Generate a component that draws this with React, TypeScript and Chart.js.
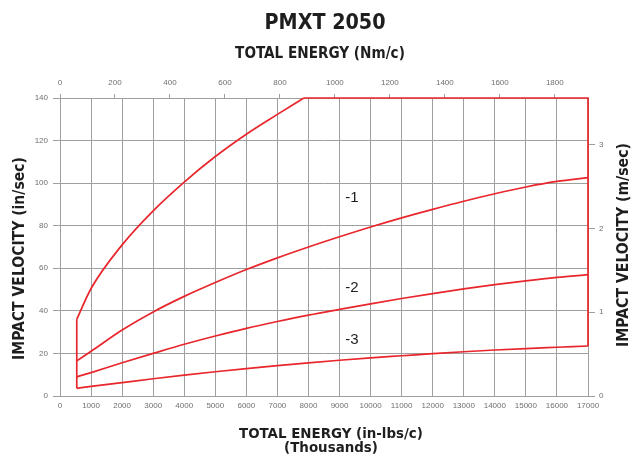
import React, { useEffect, useRef } from 'react';
import { Chart, registerables } from 'chart.js';

Chart.register(...registerables);

// ---- data (energy in thousands of in-lbs per cycle, velocity in in/sec) ----
const chartTitle = 'PMXT 2050';
const topAxisTitle = 'TOTAL ENERGY (Nm/c)';
const bottomAxisTitle = ['TOTAL ENERGY (in-lbs/c)', '(Thousands)'];
const leftAxisTitle = 'IMPACT VELOCITY (in/sec)';
const rightAxisTitle = 'IMPACT VELOCITY (m/sec)';

const energyMin = 0;
const energyMax = 17000;
const energyStep = 1000;
const nmPerThousandInLb = 0.112985;
const nmStep = 200;
const velocityMin = 0;
const velocityMax = 140;
const velocityStep = 20;
const metersPerInch = 0.0254;
const mpsStep = 1;

const curveEnergy = [540, 1000, 2000, 3000, 4000, 5000, 6000, 7000, 8000, 9000, 10000, 11000, 12000, 13000, 14000, 15000, 16000, 17000];
const curve1Velocity = [16.5, 21, 31, 39.5, 46.8, 53.3, 59.4, 64.9, 70, 74.8, 79.4, 83.7, 87.7, 91.5, 95, 98.2, 100.8, 102.6];
const curve2Velocity = [9, 11, 15.6, 20, 24.3, 28.2, 31.8, 35, 38, 40.7, 43.3, 45.8, 48.1, 50.3, 52.3, 54.1, 55.7, 57];
const curve3Velocity = [3.6, 4.5, 6.3, 8.1, 9.8, 11.4, 12.9, 14.3, 15.6, 16.8, 17.9, 18.9, 19.9, 20.8, 21.6, 22.3, 22.9, 23.5];

const limitCurveEnergy = [540, 1000, 2000, 3000, 4000, 5000, 6000, 7000, 7850];
const limitCurveVelocity = [36, 50.5, 71, 87, 100.5, 112.5, 123, 132.3, 140];

const leftEdgeEnergy = [540, 540];
const leftEdgeVelocity = [3.6, 36];
const topRightEdgeEnergy = [7850, 17000, 17000];
const topRightEdgeVelocity = [140, 140, 23.5];

const curveLabels = ['-1', '-2', '-3'];
const curveLabelEnergy = [9400, 9400, 9400];
const curveLabelVelocity = [93, 51, 26.5];

// ---- styling ----
const W = 632;
const H = 457;
const RED = '#e8262c';
const GRID = '#9f9f9f';
const TICK = '#6f6f6f';
const INK = '#1e1e1e';

const toPoints = (xs: number[], ys: number[]) => xs.map((x, i) => ({ x, y: ys[i] }));

function fontAvailable(name: string): boolean {
  const ctx = document.createElement('canvas').getContext('2d');
  if (!ctx) return false;
  const sample = 'PMXT 2050 TOTAL ENERGY mmwwiil';
  ctx.font = 'bold 40px monospace';
  const a = ctx.measureText(sample).width;
  ctx.font = `bold 40px "${name}", monospace`;
  const b = ctx.measureText(sample).width;
  return Math.abs(a - b) > 0.5;
}

function fitSize(text: string, family: string, weight: string, target: number): number {
  const ctx = document.createElement('canvas').getContext('2d');
  if (!ctx) return 14;
  ctx.font = `${weight} 100px ${family}`;
  return (100 * target) / ctx.measureText(text).width;
}

export default function App() {
  const ref = useRef<HTMLCanvasElement>(null);

  useEffect(() => {
    const canvas = ref.current;
    if (!canvas) return;

    let family = '"Liberation Sans", Arial, sans-serif';
    if (fontAvailable('Liberation Sans Narrow')) family = '"Liberation Sans Narrow", "Liberation Sans", sans-serif';
    else if (fontAvailable('DejaVu Sans Condensed')) family = '"DejaVu Sans Condensed", "Liberation Sans", sans-serif';

    const mainSize = fitSize(chartTitle, family, 'bold', 121);
    const topSize = fitSize(topAxisTitle, family, 'bold', 170);
    const bottomSize = fitSize(bottomAxisTitle[0], family, 'bold', 184);
    const leftSize = fitSize(leftAxisTitle, family, 'bold', 203);
    const rightSize = fitSize(rightAxisTitle, family, 'bold', 204);

    const textPlugin = {
      id: 'pmxtText',
      afterDraw(chart: any) {
        const ctx = chart.ctx as CanvasRenderingContext2D;
        const xs = chart.scales.x;
        const ys = chart.scales.y;
        ctx.save();
        ctx.fillStyle = INK;
        ctx.textAlign = 'center';
        ctx.textBaseline = 'middle';

        ctx.font = `bold ${mainSize}px ${family}`;
        ctx.fillText(chartTitle, 325, 23);

        ctx.font = `bold ${topSize}px ${family}`;
        ctx.fillText(topAxisTitle, 320, 54.5);

        ctx.font = `bold ${bottomSize}px ${family}`;
        ctx.fillText(bottomAxisTitle[0], 331, 434);
        ctx.fillText(bottomAxisTitle[1], 331, 448);

        ctx.save();
        ctx.translate(20, 258.5);
        ctx.rotate(-Math.PI / 2);
        ctx.font = `bold ${leftSize}px ${family}`;
        ctx.fillText(leftAxisTitle, 0, 0);
        ctx.restore();

        ctx.save();
        ctx.translate(624, 245);
        ctx.rotate(-Math.PI / 2);
        ctx.font = `bold ${rightSize}px ${family}`;
        ctx.fillText(rightAxisTitle, 0, 0);
        ctx.restore();

        ctx.font = `15px "Liberation Sans", Arial, sans-serif`;
        curveLabels.forEach((label, i) => {
          ctx.fillText(label, xs.getPixelForValue(curveLabelEnergy[i]), ys.getPixelForValue(curveLabelVelocity[i]));
        });
        ctx.restore();
      },
    };

    const tickFont = { family: '"Liberation Sans", Arial, sans-serif', size: 8 };
    const curveDs = (data: { x: number; y: number }[], monotone: boolean) => ({
      data,
      borderColor: RED,
      borderWidth: 1.7,
      pointRadius: 0,
      fill: false,
      clip: false as any,
      tension: monotone ? 0.4 : 0,
      cubicInterpolationMode: monotone ? ('monotone' as const) : ('default' as const),
    });

    const chart = new Chart(canvas, {
      type: 'line',
      data: {
        datasets: [
          curveDs(toPoints(curveEnergy, curve1Velocity), true),
          curveDs(toPoints(curveEnergy, curve2Velocity), true),
          curveDs(toPoints(curveEnergy, curve3Velocity), true),
          curveDs(toPoints(limitCurveEnergy, limitCurveVelocity), true),
          curveDs(toPoints(leftEdgeEnergy, leftEdgeVelocity), false),
          curveDs(toPoints(topRightEdgeEnergy, topRightEdgeVelocity), false),
        ],
      },
      options: {
        responsive: false,
        maintainAspectRatio: false,
        animation: false,
        layout: { padding: 0 },
        plugins: {
          legend: { display: false },
          tooltip: { enabled: false },
          title: { display: false },
        },
        scales: {
          x: {
            type: 'linear',
            position: 'bottom',
            min: energyMin,
            max: energyMax,
            ticks: {
              stepSize: energyStep,
              autoSkip: false,
              maxRotation: 0,
              padding: 5,
              color: TICK,
              font: tickFont,
              callback: (v: any) => String(v),
            },
            grid: { color: GRID, lineWidth: 1, drawTicks: false },
            border: { color: GRID },
            afterFit: (s: any) => {
              s.height = 61;
            },
          },
          x2: {
            type: 'linear',
            position: 'top',
            min: energyMin * nmPerThousandInLb,
            max: energyMax * nmPerThousandInLb,
            ticks: {
              stepSize: nmStep,
              includeBounds: false,
              autoSkip: false,
              maxRotation: 0,
              padding: 6,
              color: TICK,
              font: tickFont,
              callback: (v: any) => String(v),
            },
            grid: { drawOnChartArea: false, color: GRID, tickLength: 4 },
            border: { color: GRID },
            afterFit: (s: any) => {
              s.height = 98;
            },
          },
          y: {
            type: 'linear',
            position: 'left',
            min: velocityMin,
            max: velocityMax,
            ticks: { stepSize: velocityStep, padding: 5, color: TICK, font: tickFont },
            grid: { color: GRID, lineWidth: 1, tickLength: 7 },
            border: { color: GRID },
            afterFit: (s: any) => {
              s.width = 60;
            },
          },
          y2: {
            type: 'linear',
            position: 'right',
            min: velocityMin * metersPerInch,
            max: velocityMax * metersPerInch,
            ticks: { stepSize: mpsStep, includeBounds: false, padding: 4, color: TICK, font: tickFont },
            grid: { drawOnChartArea: false, color: GRID, tickLength: 7 },
            border: { color: GRID },
            afterFit: (s: any) => {
              s.width = 44;
            },
          },
        },
      } as any,
      plugins: [textPlugin],
    });

    return () => chart.destroy();
  }, []);

  return (
    <div style={{ position: 'fixed', left: 0, top: 0, width: W, height: H, background: '#fff' }}>
      <canvas ref={ref} width={W} height={H} style={{ display: 'block', width: W, height: H }} />
    </div>
  );
}
